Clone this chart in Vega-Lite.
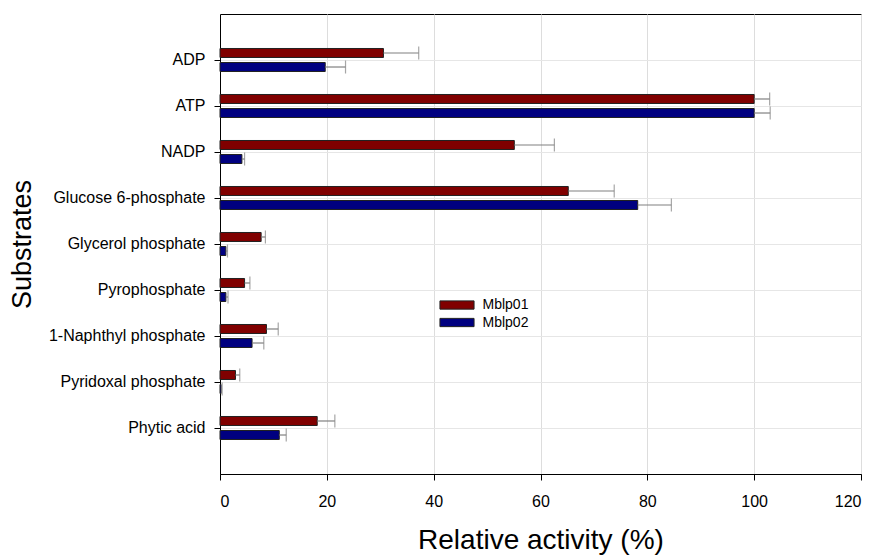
{
  "$schema": "https://vega.github.io/schema/vega-lite/v6.json",
  "autosize": {"type": "none"},
  "padding": {"left": 220, "top": 14, "right": 16, "bottom": 81},
  "width": 641,
  "height": 460,
  "config": {
    "font": "Liberation Sans",
    "view": {"stroke": "#000000", "strokeWidth": 1},
    "axis": {
      "domainColor": "#000000",
      "tickColor": "#000000",
      "gridColor": "#dddddd",
      "labelColor": "#000000",
      "titleColor": "#000000",
      "labelFontSize": 16,
      "titleFontWeight": "normal",
      "tickSize": 6
    }
  },
  "data": {
    "values": [
      {"Substrate": "ADP", "Enzyme": "Mblp01", "value": 30.6, "hi": 37.2},
      {"Substrate": "ADP", "Enzyme": "Mblp02", "value": 19.7, "hi": 23.5},
      {"Substrate": "ATP", "Enzyme": "Mblp01", "value": 100, "hi": 102.9},
      {"Substrate": "ATP", "Enzyme": "Mblp02", "value": 100, "hi": 103},
      {"Substrate": "NADP", "Enzyme": "Mblp01", "value": 55.1, "hi": 62.6},
      {"Substrate": "NADP", "Enzyme": "Mblp02", "value": 4.1, "hi": 4.6},
      {"Substrate": "Glucose 6-phosphate", "Enzyme": "Mblp01", "value": 65.2, "hi": 73.8},
      {"Substrate": "Glucose 6-phosphate", "Enzyme": "Mblp02", "value": 78.2, "hi": 84.5},
      {"Substrate": "Glycerol phosphate", "Enzyme": "Mblp01", "value": 7.7, "hi": 8.5},
      {"Substrate": "Glycerol phosphate", "Enzyme": "Mblp02", "value": 1.1, "hi": 1.4},
      {"Substrate": "Pyrophosphate", "Enzyme": "Mblp01", "value": 4.6, "hi": 5.6},
      {"Substrate": "Pyrophosphate", "Enzyme": "Mblp02", "value": 1.1, "hi": 1.5},
      {"Substrate": "1-Naphthyl phosphate", "Enzyme": "Mblp01", "value": 8.7, "hi": 10.9},
      {"Substrate": "1-Naphthyl phosphate", "Enzyme": "Mblp02", "value": 6.0, "hi": 8.2},
      {"Substrate": "Pyridoxal phosphate", "Enzyme": "Mblp01", "value": 2.9, "hi": 3.7},
      {"Substrate": "Pyridoxal phosphate", "Enzyme": "Mblp02", "value": 0.2, "hi": 0.4},
      {"Substrate": "Phytic acid", "Enzyme": "Mblp01", "value": 18.2, "hi": 21.5},
      {"Substrate": "Phytic acid", "Enzyme": "Mblp02", "value": 11.1, "hi": 12.4}
    ]
  },
  "encoding": {
    "y": {
      "field": "Substrate",
      "type": "nominal",
      "sort": null,
      "scale": {"paddingInner": 0, "paddingOuter": 0.5},
      "axis": {"title": "Substrates", "titleFontSize": 27, "labelPadding": 9, "titlePadding": 12, "grid": true, "gridColor": "#e6e6e6", "bandPosition": 0.5}
    },
    "yOffset": {
      "field": "Enzyme",
      "type": "nominal",
      "scale": {"paddingInner": 0.357, "paddingOuter": 0.82}
    }
  },
  "layer": [
    {
      "mark": {"type": "bar", "stroke": "#222222", "strokeWidth": 1},
      "encoding": {
        "x": {
          "field": "value",
          "type": "quantitative",
          "scale": {"domain": [0, 120], "nice": false},
          "axis": {"title": "Relative activity (%)", "titleFontSize": 28, "values": [0, 20, 40, 60, 80, 100, 120], "labelPadding": 13, "titlePadding": 17, "grid": true}
        },
        "color": {
          "field": "Enzyme",
          "type": "nominal",
          "scale": {"domain": ["Mblp01", "Mblp02"], "range": ["#800000", "#000080"]},
          "legend": {
            "title": null,
            "orient": "none",
            "legendX": 230,
            "legendY": 284,
            "symbolType": "M-3.1,-0.75H3.1V0.75H-3.1Z",
            "symbolSize": 121,
            "symbolStrokeColor": "#222222",
            "symbolStrokeWidth": 1,
            "symbolOpacity": 1,
            "labelFontSize": 14,
            "labelColor": "#000000",
            "rowPadding": 3.5,
            "labelOffset": 18.5
          }
        }
      }
    },
    {
      "mark": {"type": "rule", "color": "#808080", "strokeWidth": 1.2},
      "encoding": {
        "x": {"field": "value", "type": "quantitative"},
        "x2": {"field": "hi"}
      }
    },
    {
      "mark": {"type": "tick", "color": "#808080", "thickness": 1.2, "size": 13, "orient": "vertical"},
      "encoding": {
        "x": {"field": "hi", "type": "quantitative"}
      }
    }
  ]
}
